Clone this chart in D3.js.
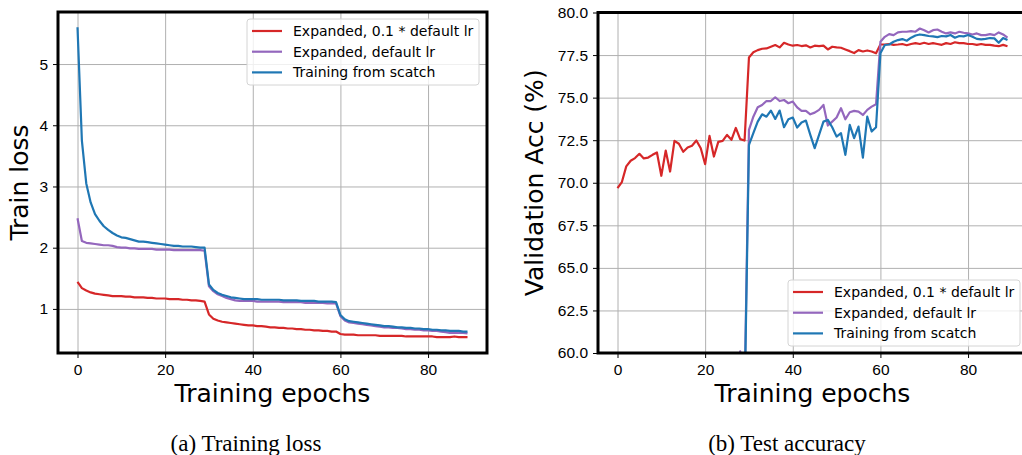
<!DOCTYPE html>
<html>
<head>
<meta charset="UTF-8">
<script src="https://d3js.org/d3.v7.min.js"></script>
<style>
  body { margin: 0; background: #fff; }
  svg { display: block; font-family: "DejaVu Sans", sans-serif; }
  .tick text { font-size: 15.5px; fill: #000; }
  .tick line { stroke: #000; stroke-width: 1; }
  .grid line { stroke: #b0b0b0; stroke-width: 1; }
  .grid .domain { display: none; }
  .line { fill: none; stroke-width: 2.2; stroke-linejoin: round; }
</style>
</head>
<body>
<svg id="chart" width="1022" height="455"></svg>
<script>
const epochs = d3.range(90);

const seriesNames = ["Expanded, 0.1 * default lr", "Expanded, default lr", "Training from scatch"];
const seriesColors = ["#d62728", "#9467bd", "#1f77b4"];

// (a) training loss
const lossRed = [
  1.44, 1.34, 1.30, 1.27, 1.25, 1.24, 1.23, 1.22, 1.21, 1.21,
  1.21, 1.20, 1.20, 1.19, 1.19, 1.19, 1.18, 1.18, 1.17, 1.17,
  1.17, 1.16, 1.16, 1.16, 1.15, 1.15, 1.14, 1.14, 1.13, 1.12,
  0.91, 0.84, 0.81, 0.79, 0.78, 0.77, 0.76, 0.75, 0.74, 0.73,
  0.73, 0.72, 0.72, 0.71, 0.70, 0.70, 0.69, 0.69, 0.68, 0.68,
  0.67, 0.67, 0.66, 0.66, 0.65, 0.65, 0.64, 0.64, 0.63, 0.63,
  0.59, 0.58, 0.58, 0.58, 0.57, 0.57, 0.57, 0.57, 0.57, 0.56,
  0.56, 0.56, 0.56, 0.56, 0.56, 0.55, 0.55, 0.55, 0.55, 0.55,
  0.55, 0.55, 0.54, 0.54, 0.54, 0.54, 0.55, 0.54, 0.54, 0.54
];
const lossPurple = [
  2.48, 2.11, 2.08, 2.07, 2.06, 2.05, 2.04, 2.04, 2.03, 2.01,
  2.00, 2.00, 1.99, 1.99, 1.98, 1.98, 1.98, 1.98, 1.97, 1.97,
  1.97, 1.97, 1.96, 1.96, 1.96, 1.96, 1.96, 1.96, 1.96, 1.95,
  1.37, 1.29, 1.24, 1.21, 1.18, 1.16, 1.14, 1.13, 1.13, 1.13,
  1.13, 1.12, 1.12, 1.12, 1.12, 1.12, 1.12, 1.11, 1.11, 1.11,
  1.11, 1.11, 1.10, 1.10, 1.10, 1.10, 1.10, 1.09, 1.09, 1.09,
  0.88, 0.81, 0.78, 0.77, 0.76, 0.75, 0.74, 0.73, 0.72, 0.71,
  0.70, 0.70, 0.69, 0.69, 0.68, 0.67, 0.67, 0.66, 0.66, 0.65,
  0.65, 0.64, 0.64, 0.63, 0.62, 0.61, 0.61, 0.61, 0.61, 0.60
];
const lossBlue = [
  5.60, 3.75, 3.05, 2.74, 2.55, 2.44, 2.35, 2.29, 2.24, 2.20,
  2.17, 2.16, 2.14, 2.12, 2.10, 2.10, 2.09, 2.08, 2.07, 2.06,
  2.05, 2.04, 2.03, 2.03, 2.02, 2.02, 2.02, 2.01, 2.00, 2.00,
  1.40, 1.31, 1.26, 1.23, 1.21, 1.19, 1.18, 1.17, 1.16, 1.16,
  1.16, 1.16, 1.15, 1.15, 1.15, 1.15, 1.15, 1.14, 1.14, 1.14,
  1.14, 1.13, 1.13, 1.13, 1.13, 1.12, 1.12, 1.12, 1.12, 1.11,
  0.90, 0.83, 0.80, 0.79, 0.78, 0.77, 0.76, 0.75, 0.74, 0.73,
  0.72, 0.72, 0.71, 0.70, 0.70, 0.69, 0.69, 0.68, 0.68, 0.67,
  0.67, 0.66, 0.66, 0.65, 0.65, 0.64, 0.64, 0.64, 0.63, 0.63
];

// (b) validation accuracy
const accRed = [
  69.69, 70.04, 70.96, 71.29, 71.45, 71.70, 71.43, 71.48, 71.64, 71.78,
  70.41, 71.89, 70.66, 72.46, 72.29, 71.82, 72.07, 72.17, 72.48, 72.03,
  71.09, 72.75, 71.54, 72.40, 72.46, 72.81, 72.52, 73.22, 72.56, 72.48,
  77.36, 77.66, 77.79, 77.87, 77.89, 77.99, 78.09, 77.95, 78.22, 78.12,
  78.05, 78.09, 78.03, 78.07, 77.95, 78.05, 78.03, 78.05, 77.83, 77.99,
  77.95, 77.93, 77.83, 77.73, 77.62, 77.79, 77.71, 77.77, 77.71, 77.60,
  78.12, 78.12, 78.15, 78.10, 78.12, 78.15, 78.08, 78.15, 78.20, 78.15,
  78.22, 78.15, 78.20, 78.15, 78.10, 78.20, 78.15, 78.25, 78.20, 78.20,
  78.15, 78.15, 78.10, 78.15, 78.10, 78.10, 78.05, 78.02, 78.10, 78.02
];
const accPurple = [
  40.5, 46.2, 48.9, 50.3, 51.8, 52.4, 53.1, 53.9, 54.2, 54.8,
  55.1, 55.6, 55.3, 56.2, 56.0, 56.7, 56.4, 57.1, 57.3, 56.9,
  57.6, 57.8, 58.1, 57.7, 58.4, 58.6, 58.2, 58.9, 60.1, 57.5,
  73.11, 73.88, 74.43, 74.57, 74.80, 74.80, 75.02, 74.80, 74.86, 74.67,
  74.77, 74.43, 74.22, 74.22, 74.02, 74.12, 74.28, 74.57, 73.36, 73.59,
  73.83, 74.38, 73.73, 74.14, 74.22, 74.18, 73.98, 74.28, 74.47, 74.61,
  78.28, 78.57, 78.73, 78.67, 78.83, 78.87, 78.87, 78.91, 78.87, 79.06,
  78.96, 78.83, 78.96, 79.00, 78.87, 78.77, 78.83, 78.77, 78.87, 78.81,
  78.77, 78.71, 78.77, 78.67, 78.67, 78.73, 78.67, 78.83, 78.71, 78.52
];
const accBlue = [
  30.2, 38.5, 42.1, 44.6, 46.0, 47.3, 48.1, 49.0, 49.6, 50.2,
  50.8, 51.1, 51.7, 52.0, 52.4, 52.9, 53.1, 53.6, 53.8, 54.2,
  54.5, 54.9, 55.1, 55.4, 55.8, 56.0, 56.3, 56.5, 56.8, 57.0,
  72.23, 72.91, 73.59, 74.02, 73.88, 74.24, 73.75, 74.24, 73.26, 73.73,
  73.83, 73.24, 73.54, 73.65, 72.81, 72.03, 72.81, 73.59, 73.69, 73.26,
  72.71, 72.91, 71.64, 73.40, 72.62, 73.30, 71.48, 73.88, 73.01, 73.26,
  77.60, 78.09, 78.12, 78.28, 78.38, 78.44, 78.34, 78.52, 78.65, 78.71,
  78.67, 78.62, 78.60, 78.55, 78.62, 78.60, 78.68, 78.52, 78.62, 78.60,
  78.68, 78.58, 78.45, 78.42, 78.45, 78.50, 78.48, 78.22, 78.50, 78.38
];

const xTicks = [0, 20, 40, 60, 80];
const lossTicks = [1, 2, 3, 4, 5];
const accTicks = [60, 62.5, 65, 67.5, 70, 72.5, 75, 77.5, 80];

const svg = d3.select("#chart");

function drawPanel(opt) {
  const { left, right, top, bottom } = opt;
  const x = d3.scaleLinear().domain([-4.45, 93.45]).range([left, right]);
  const y = d3.scaleLinear().domain(opt.yDomain).range([bottom, top]);
  const g = svg.append("g");

  const clipId = "clip-" + opt.id;
  g.append("clipPath").attr("id", clipId)
    .append("rect")
    .attr("x", left).attr("y", top)
    .attr("width", right - left).attr("height", bottom - top);

  // grid
  g.append("g").attr("class", "grid")
    .attr("transform", `translate(0,${bottom})`)
    .call(d3.axisBottom(x).tickValues(xTicks).tickSize(-(bottom - top)).tickFormat(""));
  g.append("g").attr("class", "grid")
    .attr("transform", `translate(${left},0)`)
    .call(d3.axisLeft(y).tickValues(opt.yTicks).tickSize(-(right - left)).tickFormat(""));

  // lines
  const line = d3.line().x((d, i) => x(epochs[i])).y(d => y(d));
  const plot = g.append("g").attr("clip-path", `url(#${clipId})`);
  opt.series.forEach((s, i) => {
    plot.append("path")
      .datum(s)
      .attr("class", "line")
      .attr("d", line)
      .style("stroke", seriesColors[i]);
  });

  // axes
  const xa = g.append("g")
    .attr("transform", `translate(0,${bottom})`)
    .call(d3.axisBottom(x).tickValues(xTicks).tickSize(5).tickPadding(6));
  xa.select(".domain").remove();
  const ya = g.append("g")
    .attr("transform", `translate(${left},0)`)
    .call(d3.axisLeft(y).tickValues(opt.yTicks).tickSize(5).tickPadding(5).tickFormat(opt.yFormat));
  ya.select(".domain").remove();

  // frame
  g.append("rect")
    .attr("x", left).attr("y", top)
    .attr("width", right - left).attr("height", bottom - top)
    .attr("fill", "none").attr("stroke", "#000").attr("stroke-width", 3);

  // axis labels
  g.append("text")
    .attr("x", (left + right) / 2).attr("y", bottom + 49)
    .attr("text-anchor", "middle")
    .style("font-size", "25px")
    .text("Training epochs");
  g.append("text")
    .attr("transform", `translate(${opt.yLabelX},${(top + bottom) / 2}) rotate(-90)`)
    .attr("text-anchor", "middle")
    .style("font-size", "25px")
    .text(opt.yLabel);

  // legend
  const lg = g.append("g").attr("transform", `translate(${opt.legendX},${opt.legendY})`);
  lg.append("rect")
    .attr("width", 232).attr("height", 66).attr("rx", 3)
    .attr("fill", "#fff").attr("fill-opacity", 0.8)
    .attr("stroke", "#d4d4d4").attr("stroke-width", 1);
  seriesNames.forEach((name, i) => {
    const row = lg.append("g").attr("transform", `translate(0,${12 + i * 20.7})`);
    row.append("line")
      .attr("x1", 5).attr("x2", 35)
      .attr("stroke", seriesColors[i]).attr("stroke-width", 2.2);
    row.append("text")
      .attr("x", 46).attr("y", 0).attr("dy", "0.35em")
      .style("font-size", "14px")
      .text(name);
  });

  // caption
  svg.append("text")
    .attr("x", opt.captionX).attr("y", 451)
    .attr("text-anchor", "middle")
    .style("font-family", "'Liberation Serif', 'Times New Roman', serif")
    .style("font-size", "23px")
    .text(opt.caption);
}

drawPanel({
  id: "loss", left: 58, right: 487, top: 12, bottom: 353,
  yDomain: [0.28, 5.85], yTicks: lossTicks, yFormat: d3.format("d"),
  series: [lossRed, lossPurple, lossBlue],
  yLabel: "Train loss", yLabelX: 28,
  legendX: 247, legendY: 19,
  caption: "(a) Training loss", captionX: 246
});

drawPanel({
  id: "acc", left: 598, right: 1027, top: 12.5, bottom: 353,
  yDomain: [60, 80], yTicks: accTicks, yFormat: d3.format(".1f"),
  series: [accRed, accPurple, accBlue],
  yLabel: "Validation Acc (%)", yLabelX: 543,
  legendX: 788, legendY: 280,
  caption: "(b) Test accuracy", captionX: 787
});
</script>
</body>
</html>
